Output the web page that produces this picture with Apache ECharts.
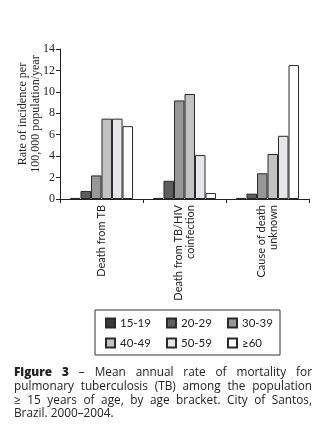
<!DOCTYPE html>
<html>
<head>
<meta charset="utf-8">
<script src="https://cdn.jsdelivr.net/npm/echarts@6/dist/echarts.min.js"></script>
<style>
  html, body { margin: 0; padding: 0; background: #fff; }
  #wrap { position: relative; width: 322px; height: 445px; }
  #chart { position: absolute; left: 0; top: 0; width: 322px; height: 445px; }
  #caption {
    position: absolute; left: 14px; top: 365px; width: 298px;
    font-family: "Open Sans", Lato, sans-serif; font-size: 11.8px; line-height: 13.8px;
    color: #222;
  }
  #caption div { text-align: justify; text-align-last: justify; white-space: nowrap; }
  #caption div.last { text-align-last: left; }
  #caption b { font-weight: 800; }
</style>
</head>
<body>
<div id="wrap">
  <div id="chart"></div>
  <div id="caption">
    <div><b>Figure 3</b> &ndash; Mean annual rate of mortality for</div>
    <div>pulmonary tuberculosis (TB) among the population</div>
    <div>&ge; 15 years of age, by age bracket. City of Santos,</div>
    <div class="last">Brazil. 2000&ndash;2004.</div>
  </div>
</div>
<script>
// 死因类别
const causes = ['Death from TB', 'Death from TB/HIV\ncoinfection', 'Cause of death\nunknown'];
// 年龄段
const ageBrackets = ['15-19', '20-29', '30-39', '40-49', '50-59', '≥60'];
// 每个年龄段在三个类别上的死亡率（每10万人/年）
const rate1519 = [0.1, 0.1, 0.1];
const rate2029 = [0.75, 1.7, 0.5];
const rate3039 = [2.2, 9.2, 2.4];
const rate4049 = [7.5, 9.8, 4.2];
const rate5059 = [7.5, 4.1, 5.9];
const rate60 = [6.8, 0.55, 12.5];
const yTicks = [0, 2, 4, 6, 8, 10, 12, 14];

const rates = [rate1519, rate2029, rate3039, rate4049, rate5059, rate60];
const fills = ['#3a3a3a', '#5e5e5e', '#979797', '#c2c2c2', '#e6e6e8', '#ffffff'];

const chart = echarts.init(document.getElementById('chart'));

const option = {
  backgroundColor: '#fff',
  animation: false,
  grid: { left: 60, top: 49, width: 249, height: 150 },
  legend: {
    data: ageBrackets,
    left: 95,
    top: 310,
    width: 178,
    orient: 'horizontal',
    itemWidth: 9,
    itemHeight: 9,
    itemGap: 8,
    padding: [7, 0, 6, 10],
    borderColor: '#333',
    borderWidth: 1,
    icon: 'rect',
    textStyle: {
      fontFamily: 'Lato, "Open Sans", sans-serif',
      fontSize: 11.5,
      color: '#222',
      width: 38,
      lineHeight: 11
    }
  },
  xAxis: {
    type: 'category',
    data: causes,
    axisLine: { lineStyle: { color: '#222', width: 1 } },
    axisTick: { show: true, length: 4, lineStyle: { color: '#222' } },
    axisLabel: {
      rotate: 90,
      margin: 6,
      interval: 0,
      align: 'right',
      fontFamily: 'Lato, "Open Sans", sans-serif',
      fontSize: 11,
      lineHeight: 12,
      color: '#222'
    }
  },
  yAxis: {
    type: 'value',
    min: yTicks[0],
    max: yTicks[yTicks.length - 1],
    interval: 2,
    name: 'Rate of incidence per\n100,000 population/year',
    nameLocation: 'middle',
    nameGap: 18,
    nameMoveOverlap: false,
    nameTextStyle: {
      fontFamily: '"Liberation Serif", serif',
      fontSize: 12,
      lineHeight: 13,
      color: '#222',
      padding: [0, 0, 0, 20]
    },
    splitLine: { show: false },
    axisLine: { show: true, lineStyle: { color: '#222', width: 1 } },
    axisTick: { show: true, length: 4, lineStyle: { color: '#222' } },
    axisLabel: {
      margin: 5,
      fontFamily: '"Liberation Serif", serif',
      fontSize: 12,
      color: '#222'
    }
  },
  series: ageBrackets.map((name, i) => ({
    name: name,
    type: 'bar',
    data: rates[i],
    barGap: '0%',
    barCategoryGap: '24%',
    itemStyle: {
      color: fills[i],
      borderColor: '#2a2a2a',
      borderWidth: 1
    }
  }))
};

chart.setOption(option);
</script>
</body>
</html>
